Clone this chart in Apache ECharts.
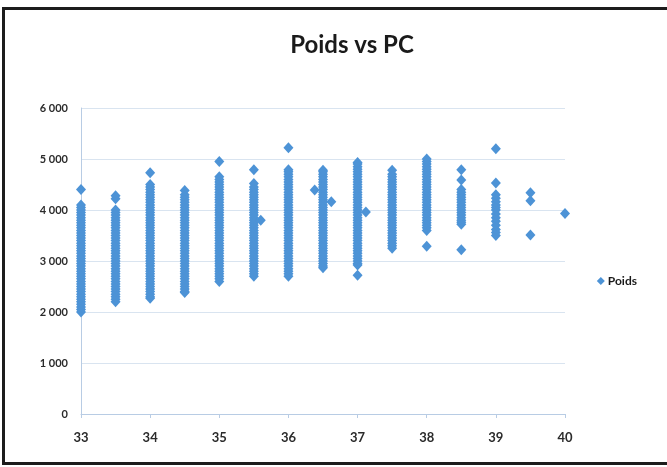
<!DOCTYPE html>
<html>
<head>
<meta charset="utf-8">
<script src="https://cdn.jsdelivr.net/npm/echarts@6/dist/echarts.min.js"></script>
<style>
html,body{margin:0;padding:0;background:#fff;}
#chart{position:absolute;left:0;top:0;width:667px;height:467px;}
#frame{position:absolute;left:2px;top:7px;width:700px;height:452px;border:3px solid #1c1c1c;border-right:none;pointer-events:none;}
</style>
</head>
<body>
<div id="chart"></div>
<div id="frame"></div>
<script>
// PC (x) categories and the weights (Poids, g) observed at each
const pcValues = [33, 33.5, 34, 34.5, 35, 35.5, 36, 36.5, 37, 37.5, 38, 38.5, 39, 39.5, 40];
const poids33 = [2000,2050,2100,2150,2200,2250,2300,2350,2400,2450,2500,2550,2600,2650,2700,2750,2800,2850,2900,2950,3000,3050,3100,3150,3200,3250,3300,3350,3400,3450,3500,3550,3600,3650,3700,3750,3800,3850,3900,3950,4000,4050,4100,4400];
const poids335 = [2200,2250,2300,2350,2400,2450,2500,2550,2600,2650,2700,2750,2800,2850,2900,2950,3000,3050,3100,3150,3200,3250,3300,3350,3400,3450,3500,3550,3600,3650,3700,3750,3800,3850,3900,3950,4000,4220,4280];
const poids34 = [2270,2300,2350,2400,2450,2500,2550,2600,2650,2700,2750,2800,2850,2900,2950,3000,3050,3100,3150,3200,3250,3300,3350,3400,3450,3500,3550,3600,3650,3700,3750,3800,3850,3900,3950,4000,4050,4100,4150,4200,4250,4300,4350,4400,4450,4500,4730];
const poids345 = [2380,2400,2450,2500,2550,2600,2650,2700,2750,2800,2850,2900,2950,3000,3050,3100,3150,3200,3250,3300,3350,3400,3450,3500,3550,3600,3650,3700,3750,3800,3850,3900,3950,4000,4050,4100,4150,4200,4250,4300,4380];
const poids35 = [2600,2650,2700,2750,2800,2850,2900,2950,3000,3050,3100,3150,3200,3250,3300,3350,3400,3450,3500,3550,3600,3650,3700,3750,3800,3850,3900,3950,4000,4050,4100,4150,4200,4250,4300,4350,4400,4450,4500,4550,4600,4650,4950];
const poids355 = [2700,2750,2800,2850,2900,2950,3000,3050,3100,3150,3200,3250,3300,3350,3400,3450,3500,3550,3600,3650,3700,3750,3800,3850,3900,3950,4000,4050,4100,4150,4200,4250,4300,4350,4400,4450,4520,4790];
const poids36 = [2700,2750,2800,2850,2900,2950,3000,3050,3100,3150,3200,3250,3300,3350,3400,3450,3500,3550,3600,3650,3700,3750,3800,3850,3900,3950,4000,4050,4100,4150,4200,4250,4300,4350,4400,4450,4500,4550,4600,4650,4700,4750,4790,5220];
const poids365 = [2870,2900,2950,3000,3050,3100,3150,3200,3250,3300,3350,3400,3450,3500,3550,3600,3650,3700,3750,3800,3850,3900,3950,4000,4050,4100,4150,4200,4250,4300,4350,4400,4450,4500,4550,4600,4650,4700,4750,4780];
const poids37 = [2720,2920,2950,3000,3050,3100,3150,3200,3250,3300,3350,3400,3450,3500,3550,3600,3650,3700,3750,3800,3850,3900,3950,4000,4050,4100,4150,4200,4250,4300,4350,4400,4450,4500,4550,4600,4650,4700,4750,4800,4850,4900,4930];
const poids375 = [3250,3300,3350,3400,3450,3500,3550,3600,3650,3700,3750,3800,3850,3900,3950,4000,4050,4100,4150,4200,4250,4300,4350,4400,4450,4500,4550,4600,4650,4700,4780];
const poids38 = [3290,3600,3650,3700,3750,3800,3850,3900,3950,4000,4050,4100,4150,4200,4250,4300,4350,4400,4450,4500,4550,4600,4650,4700,4750,4800,4850,4900,4950,5000];
const poids385 = [3220,3720,3760,3800,3850,3900,3950,4000,4050,4100,4150,4200,4250,4300,4350,4400,4590,4790];
const poids39 = [3500,3560,3620,3700,3780,3850,3920,4000,4050,4100,4160,4230,4300,4530,5200];
const poids395 = [3510,4180,4340];
const poids40 = [3930];
const poidsByPc = [poids33, poids335, poids34, poids345, poids35, poids355, poids36, poids365, poids37, poids375, poids38, poids385, poids39, poids395, poids40];
// a few observations with non-half-integer PC
const extraPc = [35.6, 36.38, 36.62, 37.12];
const extraPoids = [3800, 4390, 4160, 3960];
// axis ticks
const yTicks = [0, 1000, 2000, 3000, 4000, 5000, 6000];
const xTicks = [33, 34, 35, 36, 37, 38, 39, 40];

const data = [];
pcValues.forEach((pc, i) => poidsByPc[i].forEach(w => data.push([pc, w])));
extraPc.forEach((pc, i) => data.push([pc, extraPoids[i]]));

const chart = echarts.init(document.getElementById('chart'), null, {renderer: 'canvas'});
const fam = 'Lato, "Open Sans", sans-serif';
chart.setOption({
  backgroundColor: '#ffffff',
  animation: false,
  title: {
    text: 'Poids vs PC',
    left: 347, top: 28, textAlign: 'center',
    textStyle: {color: '#1a1a1a', fontSize: 24, fontWeight: 'bold', fontFamily: fam}
  },
  legend: {
    right: 25, top: 270, orient: 'vertical',
    icon: 'diamond', itemWidth: 8, itemHeight: 8, itemGap: 4,
    textStyle: {color: '#1a1a1a', fontSize: 12, fontWeight: 'bold', fontFamily: fam, padding: [0, 0, 0, -2]},
    data: ['Poids']
  },
  grid: {left: 81, right: 102, top: 108, bottom: 53, containLabel: false},
  xAxis: {
    type: 'value', min: xTicks[0], max: xTicks[xTicks.length - 1], interval: 1,
    axisLine: {show: true, lineStyle: {color: '#b8cce4', width: 1}},
    axisTick: {show: true, length: 4, lineStyle: {color: '#b8cce4'}},
    splitLine: {show: false},
    axisLabel: {margin: 17, color: '#2b2b2b', fontWeight: 'bold', fontSize: 13, fontFamily: fam}
  },
  yAxis: {
    type: 'value', min: yTicks[0], max: yTicks[yTicks.length - 1], interval: 1000,
    axisLine: {show: true, lineStyle: {color: '#b8cce4', width: 1}},
    axisTick: {show: false},
    splitLine: {show: true, lineStyle: {color: '#d9e4f0', width: 1}},
    axisLabel: {margin: 13, color: '#2b2b2b', fontWeight: 'bold', fontSize: 11, fontFamily: fam,
      formatter: v => v >= 1000 ? Math.floor(v / 1000) + ' ' + String(v % 1000).padStart(3, '0') : String(v)}
  },
  series: [{
    name: 'Poids', type: 'scatter', symbol: 'diamond', symbolSize: [10, 11],
    itemStyle: {color: '#4d93d6', opacity: 1},
    data: data
  }]
});
</script>
</body>
</html>
